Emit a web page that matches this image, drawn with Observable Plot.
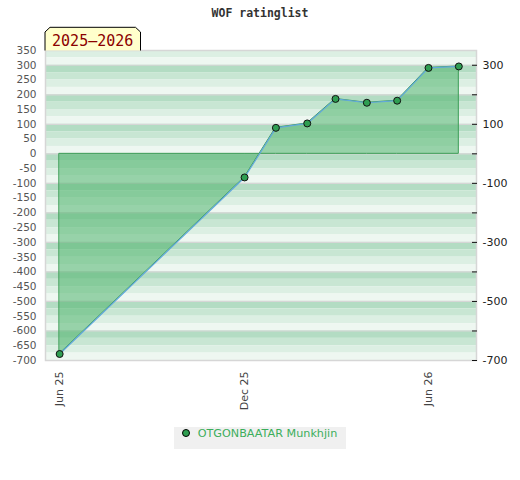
<!DOCTYPE html>
<html><head><meta charset="utf-8">
<script src="https://cdn.jsdelivr.net/npm/d3@7"></script>
<script src="https://cdn.jsdelivr.net/npm/@observablehq/plot@0.6"></script>
<style>
body{margin:0;background:#fff;width:520px;}
#title{height:16px;padding-top:6px;line-height:14px;text-align:center;font:bold 11.5px "DejaVu Sans Mono",monospace;color:#333;}
#chart{height:400px;}
#legend{text-align:center;margin-top:1px;}
#legend .box{display:inline-block;background:#f0f0f0;height:22px;line-height:22px;padding:0 9px 0 8px;font:11.2px "DejaVu Sans",sans-serif;color:#3cae5c;}
#legend .dot{display:inline-block;width:6px;height:6px;border:1px solid #000;border-radius:50%;background:#2e9e50;margin-right:8px;vertical-align:middle;position:relative;top:-1px;}
</style></head><body>
<div id="title">WOF ratinglist</div>
<div id="chart"></div>
<div id="legend"><span class="box"><span class="dot"></span>OTGONBAATAR Munkhjin</span></div>
<script>
const dates = ["2025-06-01","2025-12-01","2026-01-01","2026-02-01","2026-03-01","2026-04-01","2026-05-01","2026-06-01","2026-07-01"];
const ratings = [-678, -80, 88, 103, 186, 173, 180, 291, 296];
const xTickDates = ["2025-06-01","2025-12-01","2026-06-01"];
const leftTicks = d3.range(-700, 351, 50);
const rightTicks = d3.range(-700, 301, 100);
const rightLabels = [-700, -500, -300, -100, 100, 300];
const seasonLabel = "2025–2026";
const playerName = "OTGONBAATAR Munkhjin";

const data = dates.map((d, i) => ({date: new Date(d), rating: ratings[i]}));

const shades = ["#b3dcc3", "#c8e6d3", "#dcefe3", "#eef7f1"];
const bands = [];
for (let v = 400; v > -700; v -= 100) {
  for (let i = 0; i < 4; i++) {
    const y1 = v - 25 * i, y2 = v - 25 * (i + 1);
    if (y2 >= -700 && y1 <= 350) bands.push({y1, y2, fill: shades[i]});
  }
}

const svg = Plot.plot({
  width: 520,
  height: 400,
  marginLeft: 45,
  marginRight: 44,
  marginTop: 28,
  marginBottom: 62,
  style: {fontFamily: "DejaVu Sans, sans-serif", background: "#fff", overflow: "visible"},
  x: {type: "utc", domain: [new Date("2025-05-18"), new Date("2026-07-18T12:00")]},
  y: {domain: [-700, 350]},
  marks: [
    Plot.rectY(bands, {y1: "y1", y2: "y2", fill: d => d.fill}),
    Plot.ruleY(d3.range(-700, 351, 100), {stroke: "#d6d6d6", strokeWidth: 1.2}),
    Plot.frame({stroke: "#d6d6d6", strokeWidth: 1.5}),
    Plot.areaY(data, {x: "date", y: "rating", fill: "#50b46e", fillOpacity: 0.55, stroke: "#3c9d56", strokeWidth: 1}),
    Plot.lineY(data, {x: "date", y: "rating", stroke: "#62a8dc", strokeWidth: 1.2}),
    Plot.dot(data, {x: "date", y: "rating", r: 3.5, fill: "#2f9e52", stroke: "#111", strokeWidth: 1}),
    Plot.axisY(leftTicks, {anchor: "left", tickSize: 0, tickPadding: 9, fill: "#555", fontSize: 10.5, tickFormat: d => String(d), label: null}),
    Plot.axisY(rightTicks, {anchor: "right", tickSize: -5, tickPadding: 11, stroke: "#111", fill: "#222", fontSize: 11, tickFormat: d => rightLabels.includes(d) ? String(d) : "", label: null}),
    Plot.axisX(xTickDates.map(d => new Date(d)), {anchor: "bottom", tickSize: 0, tickRotate: -90, tickPadding: 11, fill: "#444", fontSize: 11, tickFormat: d3.utcFormat("%b %y"), label: null})
  ]
});
document.getElementById("chart").appendChild(svg);

const g = d3.select(svg).append("g");
g.append("path")
  .attr("d", "M45,28.5V10L50,5.3H135.5L140.5,10V28.5")
  .attr("fill", "#ffffcc").attr("stroke", "#000").attr("stroke-width", 1);
g.append("text")
  .attr("x", 92.7).attr("y", 23.5).attr("text-anchor", "middle")
  .attr("font-family", "DejaVu Sans Mono, monospace").attr("font-size", 15)
  .attr("fill", "#8b0000").text(seasonLabel);
</script>
</body></html>
